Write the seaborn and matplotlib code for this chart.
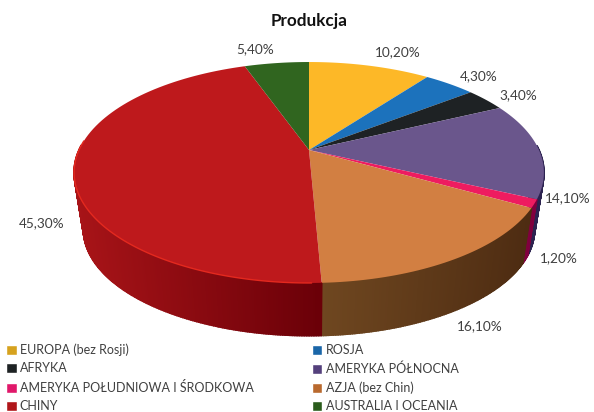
# Produkcja - 3D style pie, perspective done with a custom transform
import numpy as np
import matplotlib
matplotlib.use("Agg")
import matplotlib.pyplot as plt
import matplotlib.transforms as mtransforms
from matplotlib.path import Path
from matplotlib.patches import Patch
from matplotlib.colors import to_rgb
import seaborn as sns

regions = ["EUROPA (bez Rosji)", "ROSJA", "AFRYKA", "AMERYKA PÓŁNOCNA",
           "AMERYKA POŁUDNIOWA I ŚRODKOWA", "AZJA (bez Chin)", "CHINY", "AUSTRALIA I OCEANIA"]
shares = [10.2, 4.3, 3.4, 14.1, 1.2, 16.1, 45.3, 5.4]
top_colors = ["#FDB827", "#1C72BC", "#1E2224", "#6A568C", "#EE1C60", "#D27F42", "#BE191C", "#30651F"]
side_left = ["#8a6a10", "#0e3c66", "#101214", "#2C2350", "#80003E", "#6F4720", "#A81418", "#183510"]
side_right = ["#8a6a10", "#0e3c66", "#101214", "#2C2350", "#80003E", "#4E2C12", "#6A0008", "#183510"]
legend_colors = ["#D6A21E", "#1A66A8", "#1E2224", "#54407C", "#E0186A", "#B9692E", "#B0161A", "#2A5C1C"]
legend_order = [0, 2, 4, 6, 1, 3, 5, 7]

# perspective of the pie disc, in picture pixels
CX, CY = 309, 150
K = 0.2036
A, B = 105.9, 230


def project(u, v, shrink=1.0, y0=CY):
    w = 1 + K * np.asarray(v)
    return CX + shrink * B * np.asarray(u) / w, y0 + shrink * -A * np.asarray(v) / w


class Perspective(mtransforms.Transform):
    input_dims = output_dims = 2
    is_separable = False

    def transform_non_affine(self, values):
        values = np.asarray(values)
        x, y = project(values[:, 0], values[:, 1])
        return np.column_stack([x, y])

    def transform_path_non_affine(self, path):
        pts = [seg(np.linspace(0, 1, 24)) for seg, code in path.iter_bezier()]
        return Path(self.transform_non_affine(np.vstack(pts)), closed=True)


sns.set_theme(style="white")
plt.rcParams["font.family"] = ["Lato", "DejaVu Sans"]

fig = plt.figure(figsize=(5.94, 4.12), dpi=100)
ax = fig.add_axes([0, 0, 1, 1])

wedges, _ = ax.pie(shares, colors=top_colors, startangle=90, counterclock=False, radius=1)
persp = Perspective() + ax.transData
for w in wedges:
    w.set_transform(persp)
    w.set_zorder(3)
    w.set_linewidth(0)

# the side wall, thin strips between the top rim and the lower rim
for w, c0, c1 in zip(wedges, side_left, side_right):
    t1, t2 = min(w.theta1, w.theta2), max(w.theta1, w.theta2)
    ang = np.radians(np.linspace(t1, t2, int(t2 - t1) * 2 + 2))
    ang = ang[np.sin(ang) < 0.05]
    if len(ang) < 2:
        continue
    xt, yt = project(np.cos(ang), np.sin(ang))
    xb, yb = project(np.cos(ang), np.sin(ang), shrink=0.96, y0=208)
    c0, c1 = np.array(to_rgb(c0)), np.array(to_rgb(c1))
    span = max(xt.max() - xt.min(), 1)
    for i in range(len(ang) - 1):
        f = (xt[i] - xt.min()) / span
        ax.fill([xt[i], xt[i + 1], xb[i + 1], xb[i]], [yt[i], yt[i + 1], yb[i + 1], yb[i]],
                color=c0 + (c1 - c0) * f, lw=1.2, zorder=2)

# light rim on the red slice
red = wedges[regions.index("CHINY")]
ang = np.radians(np.linspace(max(red.theta1, red.theta2) - 2, min(red.theta1, red.theta2), 200))
ang = ang[np.sin(ang) < 0.1]
rx, ry = project(np.cos(ang), np.sin(ang))
ax.plot(rx, ry, color="#E4291F", lw=1.0, zorder=4)

label_pos = [(398, 52), (479, 76), (518, 95), (568, 198), (559, 258), (480, 326), (42, 223), (255, 49)]
for val, (lx, ly) in zip(shares, label_pos):
    ax.text(lx, ly, f"{val:.2f}".replace(".", ",") + "%", ha="center", va="center",
            fontsize=9.8, color="#404040", zorder=5)

ax.text(309, 21, "Produkcja", ha="center", va="center", fontsize=12.3, fontweight="bold", color="#111111")

handles = [Patch(facecolor=legend_colors[i], label=regions[i]) for i in legend_order]
ax.legend(handles=handles, ncol=2, loc="lower left", bbox_to_anchor=(-4 / 594, -10.5 / 412),
          bbox_transform=fig.transFigure, frameon=False, fontsize=9, labelcolor="#404040",
          handlelength=0.85, handleheight=0.85, handletextpad=0.25, labelspacing=0.52,
          columnspacing=4.65, borderpad=0.3)

ax.set_xlim(0, 594)
ax.set_ylim(412, 0)
ax.set_aspect("auto")
ax.axis("off")

fig.savefig("out.png", dpi=100, facecolor="white")
